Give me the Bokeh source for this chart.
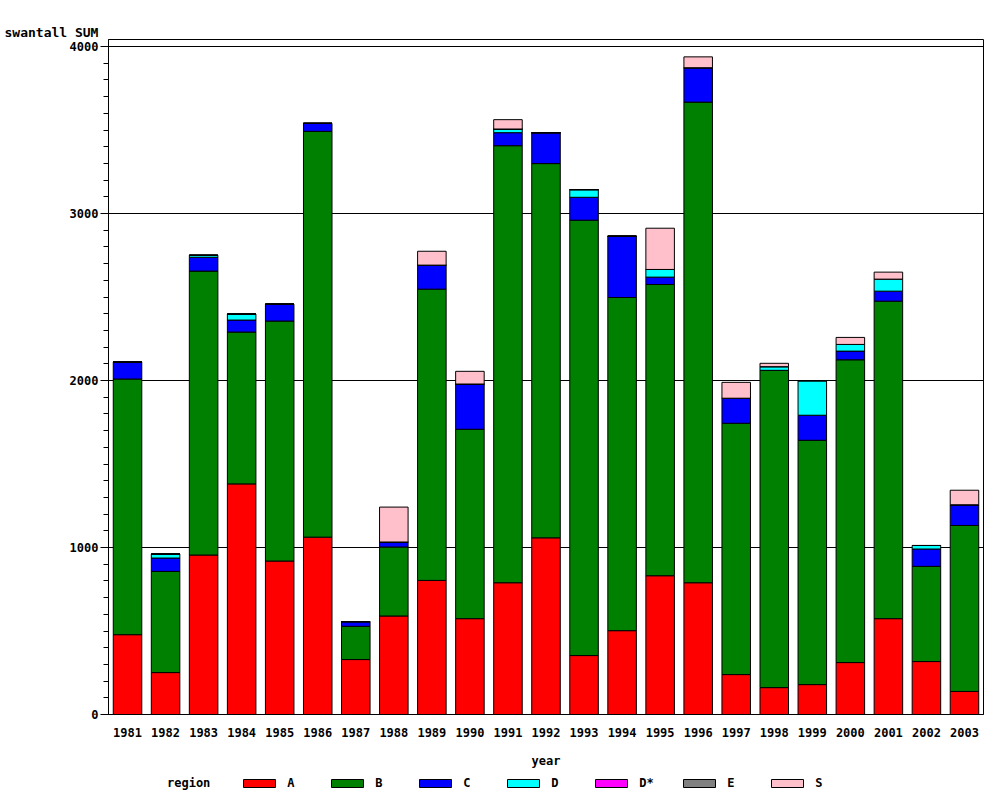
from bokeh.plotting import figure
from bokeh.layouts import column
from bokeh.models import (FactorRange, Range1d, SingleIntervalTicker, Legend,
                          LegendItem, Title, ColumnDataSource)
from bokeh.embed import file_html
from bokeh.resources import INLINE

years = [str(y) for y in range(1981, 2004)]
regions = ["A", "B", "C", "D", "D*", "E", "S"]

A  = [478, 251, 955, 1381, 919, 1062, 329, 590, 803, 574, 789, 1058, 353, 502, 831, 789, 239, 161, 179, 311, 574, 317, 138]
B  = [1531, 606, 1700, 909, 1437, 2430, 199, 413, 1744, 1134, 2617, 2241, 2607, 1995, 1744, 2878, 1505, 1900, 1463, 1813, 1901, 570, 994]
C  = [102, 80, 83, 72, 101, 48, 28, 30, 144, 271, 78, 185, 137, 367, 44, 206, 150, 0, 150, 52, 60, 104, 124]
D  = [0, 24, 12, 36, 0, 0, 0, 0, 0, 0, 22, 0, 46, 0, 46, 0, 0, 22, 207, 40, 72, 21, 0]
Dx = [0] * 23
E  = [0] * 23
S  = [0, 0, 0, 0, 0, 0, 0, 209, 83, 76, 56, 0, 0, 0, 247, 65, 95, 20, 0, 42, 42, 0, 87]

colors = ["#FF0000", "#008000", "#0000FF", "#00FFFF", "#FF00FF", "#808080", "#FFC0CB"]

src = ColumnDataSource(dict(year=years, A=A, B=B, C=C, D=D, **{"D*": Dx}, E=E, S=S))

FONT = "DejaVu Sans Mono"
NB = "\u00a0"

p = figure(x_range=FactorRange(*years, range_padding=0), y_range=Range1d(0, 4042),
           width=984, height=770, output_backend="svg", toolbar_location=None,
           min_border_left=108, min_border_right=1, min_border_top=39, min_border_bottom=55)

rs = p.vbar_stack(stackers=regions, x="year", width=0.75, source=src,
                  fill_color=colors, line_color="black", line_width=1)

p.outline_line_color = "black"
p.outline_line_alpha = 1
p.xgrid.visible = False
tick = SingleIntervalTicker(interval=1000, num_minor_ticks=10)
p.yaxis.ticker = tick
p.ygrid.ticker = tick
p.ygrid.grid_line_color = "black"
p.ygrid.grid_line_alpha = 1

for ax in (p.xaxis[0], p.yaxis[0]):
    ax.axis_line_color = "black"
    ax.major_label_text_font = FONT
    ax.major_label_text_font_style = "bold"
    ax.major_label_text_font_size = "12px"
    ax.major_label_text_color = "black"
    ax.axis_label_text_font = FONT
    ax.axis_label_text_font_style = "bold"
    ax.axis_label_text_font_size = "12px"
    ax.axis_label_text_color = "black"

p.xaxis.major_tick_line_color = None
p.xaxis.major_tick_out = 0
p.xaxis.major_label_standoff = 13
p.xaxis.axis_label = "year"
p.xaxis.axis_label_standoff = 14

p.yaxis.major_tick_out = 8
p.yaxis.major_tick_in = 0
p.yaxis.minor_tick_out = 5
p.yaxis.minor_tick_in = 0
p.yaxis.major_tick_line_color = "black"
p.yaxis.minor_tick_line_color = "black"
p.yaxis.major_label_standoff = 2

p.add_layout(Title(text="swantall SUM", align="left", offset=-104, standoff=0,
                   vertical_align="bottom",
                   text_font=FONT, text_font_style="bold", text_font_size="13px",
                   text_color="black"), "above")

# legend strip below the chart (its renderers are hidden; only the legend shows)
lg = figure(width=984, height=20, output_backend="svg", toolbar_location=None,
            x_range=FactorRange(*years, range_padding=0), y_range=Range1d(0, 1),
            x_axis_location=None, y_axis_location=None, min_border=0)
lg.outline_line_color = None
lg.grid.visible = False
head = lg.vbar(x="year", top="A", source=src, width=0.75,
               fill_alpha=0, line_alpha=0, visible=False)
keys = lg.vbar_stack(stackers=regions, x="year", width=0.75, source=src,
                     fill_color=colors, line_color="black", line_width=1)
for r in keys:
    r.visible = False

items = [LegendItem(label="region" + NB * 4, renderers=[head])]
items += [LegendItem(label=k, renderers=[r]) for k, r in zip(regions, keys)]

legend = Legend(items=items,
                orientation="horizontal", location=(11, 0),
                glyph_width=40, glyph_height=10, label_width=40, label_standoff=8,
                spacing=0, padding=0, margin=0, border_line_color=None,
                background_fill_alpha=0, click_policy="none",
                label_text_font=FONT, label_text_font_style="bold",
                label_text_font_size="12px", label_text_color="black")
lg.add_layout(legend)

layout = column(p, lg, spacing=0)
open("out.html", "w").write(file_html(layout, INLINE))
